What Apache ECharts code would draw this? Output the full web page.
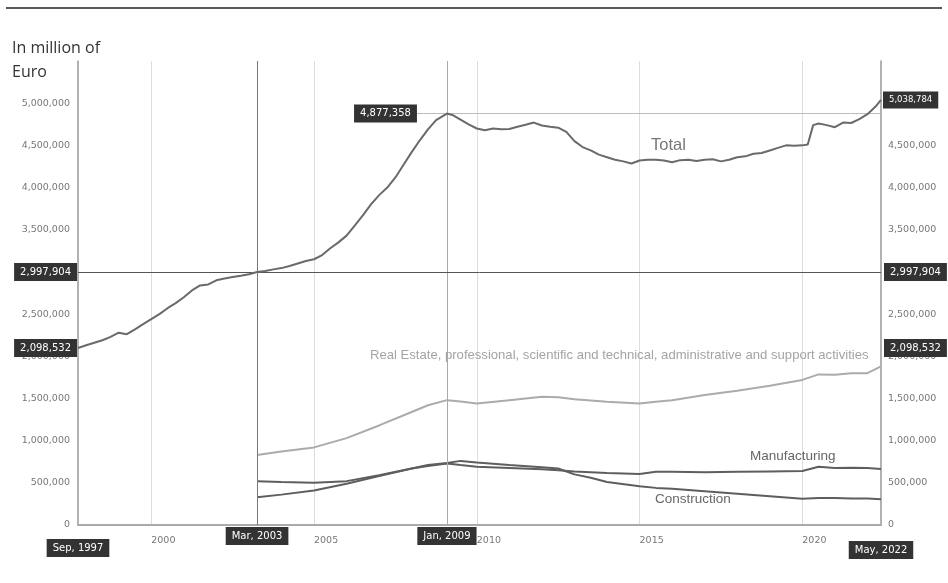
<!DOCTYPE html>
<html><head><meta charset="utf-8">
<script src="https://cdn.jsdelivr.net/npm/echarts@6/dist/echarts.min.js"></script>
<style>html,body{margin:0;padding:0;background:#fff}#c{width:948px;height:583px}</style>
</head><body><div id="c"></div>
<script>
// ---------- data (million of Euro) ----------
const totalDates = ["1997-09","1997-12","1998-03","1998-06","1998-09","1998-12","1999-03","1999-06","1999-09","1999-12",
"2000-03","2000-06","2000-09","2000-12","2001-03","2001-06","2001-09","2001-12","2002-03","2002-06","2002-09","2002-12",
"2003-03","2003-06","2003-09","2003-12","2004-03","2004-06","2004-09","2004-12","2005-03","2005-06","2005-09","2005-12",
"2006-03","2006-06","2006-09","2006-12","2007-03","2007-06","2007-09","2007-12","2008-03","2008-06","2008-09","2009-01",
"2009-03","2009-06","2009-09","2009-12","2010-03","2010-06","2010-09","2010-12","2011-03","2011-06","2011-09","2011-12",
"2012-03","2012-06","2012-09","2012-12","2013-03","2013-06","2013-09","2013-12","2014-03","2014-06","2014-09","2014-12",
"2015-03","2015-06","2015-09","2015-12","2016-03","2016-06","2016-09","2016-12","2017-03","2017-06","2017-09","2017-12",
"2018-03","2018-06","2018-09","2018-12","2019-03","2019-06","2019-09","2019-12","2020-02","2020-04","2020-06","2020-09",
"2020-12","2021-03","2021-06","2021-09","2021-12","2022-03","2022-05"];
const totalValues = [2098532,2130000,2160000,2190000,2230000,2280000,2262000,2320000,2380000,2440000,
2500000,2570000,2630000,2700000,2780000,2840000,2852000,2900000,2922000,2940000,2955000,2972000,
2997904,3010000,3030000,3045000,3070000,3100000,3130000,3150000,3200000,3280000,3350000,3430000,
3550000,3670000,3800000,3910000,4000000,4120000,4270000,4420000,4560000,4690000,4800000,4877358,
4860000,4805000,4750000,4700000,4680000,4700000,4690000,4695000,4720000,4745000,4770000,4735000,
4720000,4710000,4660000,4550000,4480000,4440000,4390000,4360000,4330000,4310000,4285000,4320000,
4330000,4330000,4320000,4300000,4325000,4330000,4315000,4330000,4335000,4310000,4330000,4360000,
4370000,4400000,4410000,4440000,4470000,4500000,4495000,4500000,4510000,4740000,4760000,4740000,
4715000,4770000,4765000,4810000,4870000,4960000,5038784];

const sectorDates = ["2003-03","2003-12","2004-12","2005-12","2006-12","2007-12","2008-06","2009-01","2009-06","2009-12",
"2010-12","2011-12","2012-06","2012-12","2013-06","2013-12","2014-12","2015-06","2015-12","2016-12","2017-12","2018-12",
"2019-12","2020-06","2020-12","2021-06","2021-12","2022-05"];
const realEstateValues = [830000,870000,920000,1030000,1180000,1340000,1420000,1480000,1465000,1440000,
1480000,1520000,1515000,1490000,1475000,1460000,1440000,1460000,1480000,1540000,1590000,1650000,
1720000,1785000,1780000,1800000,1800000,1880000];
const manufacturingValues = [520000,510000,500000,520000,590000,670000,700000,730000,710000,690000,
675000,660000,650000,635000,625000,615000,605000,630000,630000,625000,630000,635000,
640000,690000,675000,680000,675000,665000];
const constructionValues = [330000,360000,410000,490000,580000,670000,710000,735000,760000,740000,
710000,685000,670000,600000,560000,510000,460000,440000,430000,400000,370000,340000,
310000,320000,320000,315000,315000,305000];

const yearTicks = [2000, 2005, 2010, 2015, 2020];
const markerDates = ["1997-09", "2003-03", "2009-01", "2022-05"];
const markerLabels = ["Sep, 1997", "Mar, 2003", "Jan, 2009", "May, 2022"];
const startValue = 2098532, crossValue = 2997904, peakValue = 4877358, endValue = 5038784;
const seriesNames = ["Total", "Real Estate, professional, scientific and technical, administrative and support activities", "Manufacturing", "Construction"];

// ---------- helpers ----------
function toX(d) { const p = d.split("-").map(Number); return p[0] + p[1] / 12; }
function fmt(v) { return Math.round(v).toLocaleString("en-US"); }
function pairs(dates, vals) { return dates.map((d, i) => [toX(d), vals[i]]); }

const xMin = toX(markerDates[0]), xMax = toX(markerDates[3]);
const G = { left: 78, right: 67, top: 61, bottom: 58 };

const chart = echarts.init(document.getElementById("c"));
const axisLbl = { color: "#777", fontSize: 9.5, fontFamily: "DejaVu Sans", formatter: fmt, showMaxLabel: false };

chart.setOption({
  animation: false,
  title: { text: "In million of\nEuro", left: 7, top: 31,
    textStyle: { fontSize: 16, fontWeight: "normal", color: "#333", fontFamily: "Open Sans", lineHeight: 24 } },
  grid: G,
  xAxis: {
    type: "value", min: xMin, max: xMax,
    axisLine: { show: true, lineStyle: { color: "#aaa", width: 2 } },
    axisTick: { show: false, customValues: yearTicks },
    splitLine: { show: true, lineStyle: { color: "#ddd", width: 1 } },
    axisLabel: { customValues: yearTicks, align: "left", margin: 11, color: "#777", fontSize: 9.5, fontFamily: "DejaVu Sans",
      formatter: v => String(Math.round(v)) }
  },
  yAxis: [
    { type: "value", min: 0, max: 5500000, interval: 500000, position: "left",
      axisLine: { show: true, lineStyle: { color: "#999", width: 1.5 } }, axisTick: { show: false },
      splitLine: { show: false }, axisLabel: Object.assign({ margin: 8 }, axisLbl) },
    { type: "value", min: 0, max: 5500000, interval: 500000, position: "right",
      axisLine: { show: true, lineStyle: { color: "#999", width: 1.5 } }, axisTick: { show: false },
      splitLine: { show: false }, axisLabel: Object.assign({ margin: 7 }, axisLbl) }
  ],
  series: [
    { name: seriesNames[0], type: "line", data: pairs(totalDates, totalValues), showSymbol: false, z: 5,
      lineStyle: { color: "#6a6a6a", width: 2 },
      markLine: { silent: true, symbol: "none", label: { show: false }, animation: false,
        data: [
          { xAxis: toX(markerDates[1]), lineStyle: { color: "#777", width: 1, type: "solid" } },
          { xAxis: toX(markerDates[2]), lineStyle: { color: "#aaa", width: 1, type: "solid" } },
          { yAxis: crossValue, lineStyle: { color: "#555", width: 1, type: "solid" } }
        ] } },
    { name: seriesNames[1], type: "line", data: pairs(sectorDates, realEstateValues), showSymbol: false,
      lineStyle: { color: "#ababab", width: 2 } },
    { name: seriesNames[2], type: "line", data: pairs(sectorDates, manufacturingValues), showSymbol: false,
      lineStyle: { color: "#5e5e5e", width: 2 } },
    { name: seriesNames[3], type: "line", data: pairs(sectorDates, constructionValues), showSymbol: false,
      lineStyle: { color: "#5e5e5e", width: 2 } }
  ]
});

// ---------- annotations positioned from data ----------
const px = d => chart.convertToPixel({ xAxisIndex: 0 }, toX(d));
const py = v => chart.convertToPixel({ yAxisIndex: 0 }, v);
const W = 948, H = 583;
const xL = G.left, xR = W - G.right, yB = H - G.bottom;
function box(text, x, y, align, vAlign, size) {
  return { type: "text", z: 100, x: x, y: y,
    style: { text: text, fill: "#fff", backgroundColor: "#333", padding: [4, 6, 4, 6],
      font: (size || 10) + "px 'DejaVu Sans'", align: align, verticalAlign: vAlign } };
}
const g = [];
g.push({ type: "line", shape: { x1: 6, y1: 8, x2: 942, y2: 8 }, style: { stroke: "#222", lineWidth: 1.6 } });
g.push({ type: "line", z: 2, shape: { x1: px(markerDates[2]) - 30, y1: py(peakValue), x2: xR, y2: py(peakValue) },
  style: { stroke: "#bbb", lineWidth: 1 } });
g.push(box(fmt(crossValue), xL - 1, py(crossValue), "right", "middle"));
g.push(box(fmt(crossValue), xR + 3, py(crossValue), "left", "middle"));
g.push(box(fmt(startValue), xL - 1, py(startValue), "right", "middle"));
g.push(box(fmt(startValue), xR + 3, py(startValue), "left", "middle"));
g.push(box(fmt(peakValue), px(markerDates[2]) - 30, py(peakValue), "right", "middle"));
g.push(box(fmt(endValue), xR + 2, py(endValue), "left", "middle", 8.5));
g.push(box(markerLabels[0], px(markerDates[0]), yB + 14, "center", "top"));
g.push(box(markerLabels[1], px(markerDates[1]), yB + 2, "center", "top"));
g.push(box(markerLabels[2], px(markerDates[2]), yB + 2, "center", "top"));
g.push(box(markerLabels[3], px(markerDates[3]), yB + 16, "center", "top"));
function lbl(text, x, y, size, color) {
  return { type: "text", z: 50, x: x, y: y,
    style: { text: text, fill: color, font: size + "px 'Liberation Sans'", align: "left", verticalAlign: "middle" } };
}
g.push(lbl(seriesNames[0], 651, 145, 16.5, "#777"));
g.push(lbl(seriesNames[1], 370, 355, 13.1, "#a4a4a4"));
g.push(lbl(seriesNames[2], 750, 456, 13.5, "#666"));
g.push(lbl(seriesNames[3], 655, 499, 13.5, "#666"));
chart.setOption({ graphic: g });
</script></body></html>
